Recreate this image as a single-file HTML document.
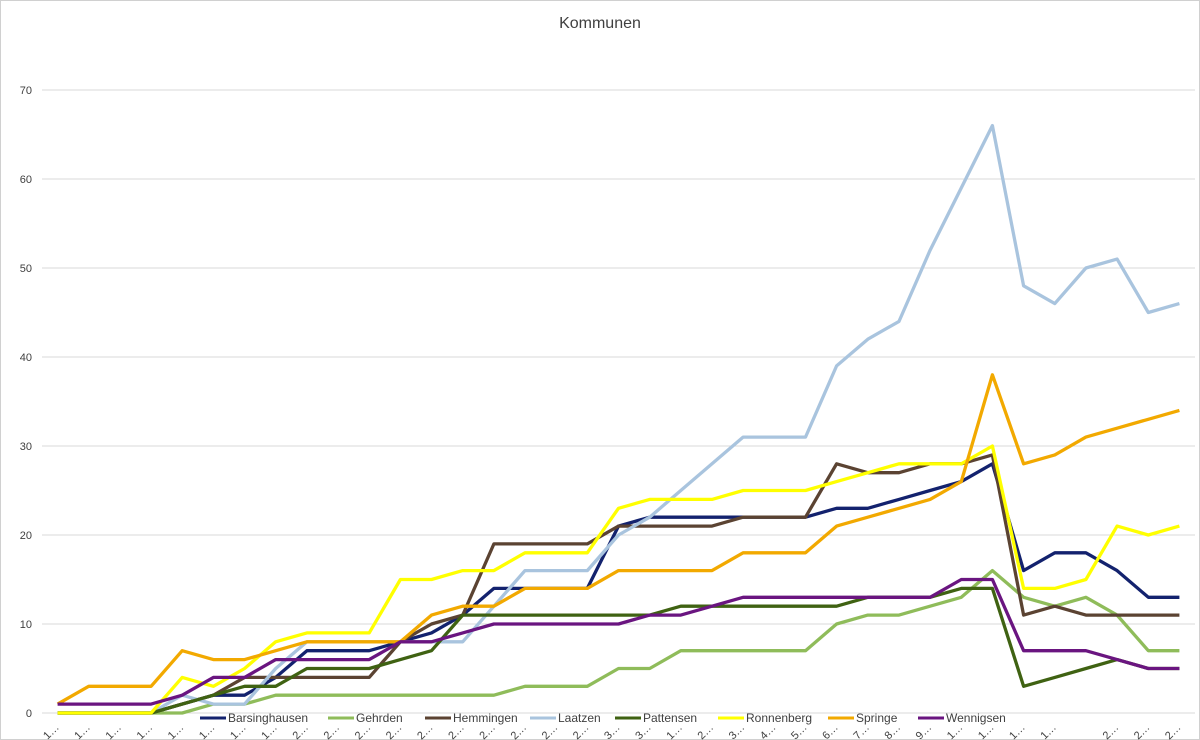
<!DOCTYPE html>
<html><head><meta charset="utf-8"><style>
body{margin:0;background:#fff;}
svg{display:block;font-family:"Liberation Sans",sans-serif;}
</style></head><body>
<svg id="chart" width="1200" height="740" viewBox="0 0 1200 740">
<rect x="0.5" y="0.5" width="1199" height="739" fill="#fff" stroke="#d0d0d0"/>
<text x="600" y="28" text-anchor="middle" font-size="16" fill="#404040">Kommunen</text>
<g id="grid"></g><g id="series"></g><g id="xlabels"></g><g id="legend"></g>
</svg>
<script>
const categories=["1…","1…","1…","1…","1…","1…","1…","1…","2…","2…","2…","2…","2…","2…","2…","2…","2…","2…","3…","3…","1…","2…","3…","4…","5…","6…","7…","8…","9…","1…","1…","1…","1…","","2…","2…","2…"];
const yTicks=[0,10,20,30,40,50,60,70];
const seriesNames=["Barsinghausen","Gehrden","Hemmingen","Laatzen","Pattensen","Ronnenberg","Springe","Wennigsen"];
const seriesColors=["#13226e","#8fbc5a","#5b4332","#a9c4de","#3f6212","#ffff00","#f2a900","#6a1580"];
const barsinghausen=[0,0,0,0,1,2,2,4,7,7,7,8,9,11,14,14,14,14,21,22,22,22,22,22,22,23,23,24,25,26,28,16,18,18,16,13,13];
const gehrden=[0,0,0,0,0,1,1,2,2,2,2,2,2,2,2,3,3,3,5,5,7,7,7,7,7,10,11,11,12,13,16,13,12,13,11,7,7];
const hemmingen=[0,0,0,0,1,2,4,4,4,4,4,8,10,11,19,19,19,19,21,21,21,21,22,22,22,28,27,27,28,28,29,11,12,11,11,11,11];
const laatzen=[0,0,0,0,2,1,1,5,8,8,8,8,8,8,12,16,16,16,20,22,25,28,31,31,31,39,42,44,52,59,66,48,46,50,51,45,46];
const pattensen=[0,0,0,0,1,2,3,3,5,5,5,6,7,11,11,11,11,11,11,11,12,12,12,12,12,12,13,13,13,14,14,3,4,5,6,5,5];
const ronnenberg=[0,0,0,0,4,3,5,8,9,9,9,15,15,16,16,18,18,18,23,24,24,24,25,25,25,26,27,28,28,28,30,14,14,15,21,20,21];
const springe=[1,3,3,3,7,6,6,7,8,8,8,8,11,12,12,14,14,14,16,16,16,16,18,18,18,21,22,23,24,26,38,28,29,31,32,33,34];
const wennigsen=[1,1,1,1,2,4,4,6,6,6,6,8,8,9,10,10,10,10,10,11,11,12,13,13,13,13,13,13,13,15,15,7,7,7,6,5,5];
const seriesData=[barsinghausen,gehrden,hemmingen,laatzen,pattensen,ronnenberg,springe,wennigsen];
const NS="http://www.w3.org/2000/svg";
const left=42,right=1195,y0=713,yTop=90,yMax=70;
const step=(right-left)/categories.length;
const xPos=i=>left+step*(i+0.5);
const yPos=v=>y0-(v/yMax)*(y0-yTop);
function mk(t,a,p){const e=document.createElementNS(NS,t);for(const k in a)e.setAttribute(k,a[k]);p.appendChild(e);return e;}
const grid=document.getElementById('grid');
yTicks.forEach(v=>{
  const l=mk('line',{x1:left,x2:right,y1:yPos(v),y2:yPos(v),stroke:'#d9d9d9','stroke-width':1},grid);
  
  
  const t=mk('text',{x:32,y:yPos(v)+4,'text-anchor':'end','font-size':11,fill:'#404040'},grid);
  t.textContent=v;
  
  
});
const sg=document.getElementById('series');
seriesData.forEach((d,s)=>{
  const pts=d.map((v,i)=>xPos(i).toFixed(1)+','+yPos(v).toFixed(1)).join(' ');
  const p=mk('polyline',{points:pts,fill:'none',stroke:seriesColors[s],'stroke-width':3.3,'stroke-linejoin':'round'},sg);
  
  
});
const xl=document.getElementById('xlabels');
categories.forEach((c,i)=>{
  const x=xPos(i)-4,y=734;
  const t=mk('text',{x:x,y:y,'text-anchor':'middle','font-size':11,fill:'#404040',transform:'rotate(-45 '+x+' '+y+')'},xl);
  t.textContent=c;
  
  
});
const lg=document.getElementById('legend');
const legX=[200,328,425,530,615,718,828,918];
seriesNames.forEach((n,s)=>{
  const g=mk('g',{},lg);
  
  
  mk('line',{x1:legX[s],x2:legX[s]+26,y1:718,y2:718,stroke:seriesColors[s],'stroke-width':3},g);
  const t=mk('text',{x:legX[s]+28,y:722,'font-size':12,fill:'#404040'},g);
  t.textContent=n;
});
</script>
</body></html>
